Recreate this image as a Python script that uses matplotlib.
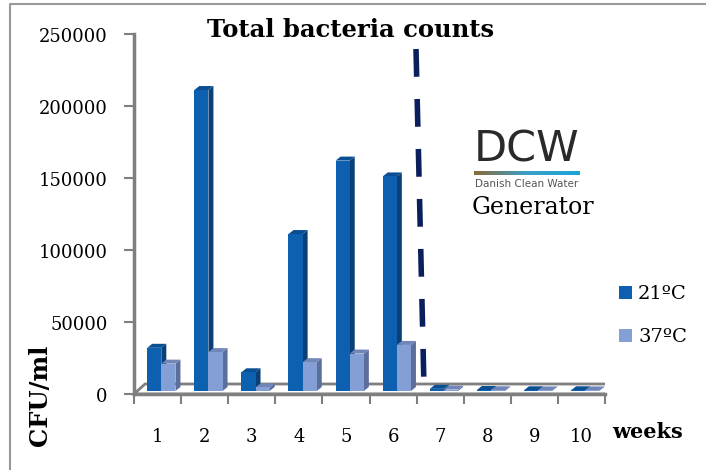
import numpy as np
import matplotlib.pyplot as plt
from matplotlib.patches import Polygon, Rectangle
from matplotlib.colors import LinearSegmentedColormap

# Data
weeks = ['1', '2', '3', '4', '5', '6', '7', '8', '9', '10']
cfu_21 = [30000, 209000, 13000, 109000, 160000, 149000, 1500, 700, 500, 500]
cfu_37 = [19000, 27000, 2500, 20000, 26000, 32000, 1000, 500, 400, 400]
yticks = [0, 50000, 100000, 150000, 200000, 250000]

W, H = 706, 477
c21, c21_side, c21_top = '#0d5fb0', '#0a3f78', '#0b4f93'
c37, c37_side, c37_top = '#849fd6', '#5b6f9c', '#7086b8'
grey = '#7f7f7f'

fig = plt.figure(figsize=(W / 100, H / 100), dpi=100)
fig.patch.set_facecolor('white')


def fx(px):
    return px / W


def fy(py):
    return 1 - py / H


ax = fig.add_axes([fx(134), fy(395), 471 / W, 360 / H])
ax.set_xlim(0, 10)
ax.set_ylim(0, 250000)
ax.set_facecolor('none')

# pixel -> data scale
sx = 10 / 471
sy = 250000 / 360

# floor of the 3D plot
fdx, fdy = 11 * sx, 10 * sy
floor = Polygon([(0, 0), (10, 0), (10 + fdx, fdy), (0 + fdx, fdy)], closed=True,
                facecolor='white', edgecolor=grey, lw=2, zorder=1)
ax.add_patch(floor)

# bars with a little depth
bw = 0.3
dx, dy = 5 * sx, 4 * sy
lift = 3 * sy
x = np.arange(len(weeks))
for vals, off, cf, cs, ct in [(cfu_21, 0.28, c21, c21_side, c21_top),
                              (cfu_37, 0.58, c37, c37_side, c37_top)]:
    bars = ax.bar(x + off, vals, width=bw, bottom=lift, align='edge', color=cf, zorder=3)
    for b in bars:
        x0, x1 = b.get_x(), b.get_x() + b.get_width()
        y0, y1 = b.get_y(), b.get_y() + b.get_height()
        ax.add_patch(Polygon([(x1, y0), (x1, y1), (x1 + dx, y1 + dy), (x1 + dx, y0 + dy)],
                             closed=True, facecolor=cs, edgecolor='none', zorder=2))
        ax.add_patch(Polygon([(x0, y1), (x1, y1), (x1 + dx, y1 + dy), (x0 + dx, y1 + dy)],
                             closed=True, facecolor=ct, edgecolor='none', zorder=2))

# axes styling
for s in ['top', 'right']:
    ax.spines[s].set_visible(False)
for s in ['left', 'bottom']:
    ax.spines[s].set_color(grey)
    ax.spines[s].set_linewidth(2.5)
ax.set_yticks(yticks)
ax.set_yticklabels([str(v) for v in yticks], family='DejaVu Serif', fontsize=13)
ax.set_xticks(np.arange(0, 11))
ax.set_xticklabels([])
ax.tick_params(axis='both', color=grey, width=1.5, length=7, direction='out')
ax.tick_params(axis='y', pad=12)
for i, w in enumerate(weeks):
    ax.text(i + 0.5, -0.117, w, transform=ax.get_xaxis_transform(), ha='center', va='center',
            family='DejaVu Serif', fontsize=13)

# dashed separation line
fig.add_artist(plt.Line2D([fx(416), fx(424)], [fy(50), fy(388)], color='#0a1f5c', lw=4,
                          dashes=(5, 4)))

# labels
fig.text(fx(351), fy(30), 'Total bacteria counts', ha='center', va='center',
         family='DejaVu Serif', fontweight='bold', fontsize=17.5)
fig.text(fx(40), fy(395), 'CFU/ml', rotation=90, ha='center', va='center',
         family='DejaVu Serif', fontweight='bold', fontsize=17.5)
fig.text(fx(648), fy(432), 'weeks', ha='center', va='center',
         family='DejaVu Serif', fontweight='bold', fontsize=15)

# legend
for py, col, lab in [(293, c21, '21ºC'), (336, c37, '37ºC')]:
    fig.add_artist(Rectangle((fx(619), fy(py + 7)), 13 / W, 13 / H, facecolor=col,
                             edgecolor='none', transform=fig.transFigure))
    fig.text(fx(638), fy(py + 1), lab, ha='left', va='center', family='DejaVu Serif', fontsize=14)

# DCW logo
fig.text(fx(527), fy(150), 'DCW', ha='center', va='center',
         family='DejaVu Sans', fontsize=31, color='#2a2a2a')
grad = np.linspace(0, 1, 100).reshape(1, -1)
lax = fig.add_axes([fx(474), fy(176), 106 / W, 4 / H])
lax.imshow(grad, aspect='auto',
           cmap=LinearSegmentedColormap.from_list('dcw', ['#8a6a3c', '#3aa0c8', '#1aa5d8']))
lax.axis('off')
fig.text(fx(527), fy(184), 'Danish Clean Water', ha='center', va='center', family='DejaVu Sans',
         fontsize=7.5, color='#555555')
fig.text(fx(472), fy(208), 'Generator', ha='left', va='center', family='DejaVu Serif', fontsize=17)

# outer frame
fig.add_artist(plt.Line2D([fx(10), fx(10), fx(706)], [fy(470), fy(5), fy(5)], color='#999999', lw=1.5))

fig.savefig('out.png', dpi=100)
